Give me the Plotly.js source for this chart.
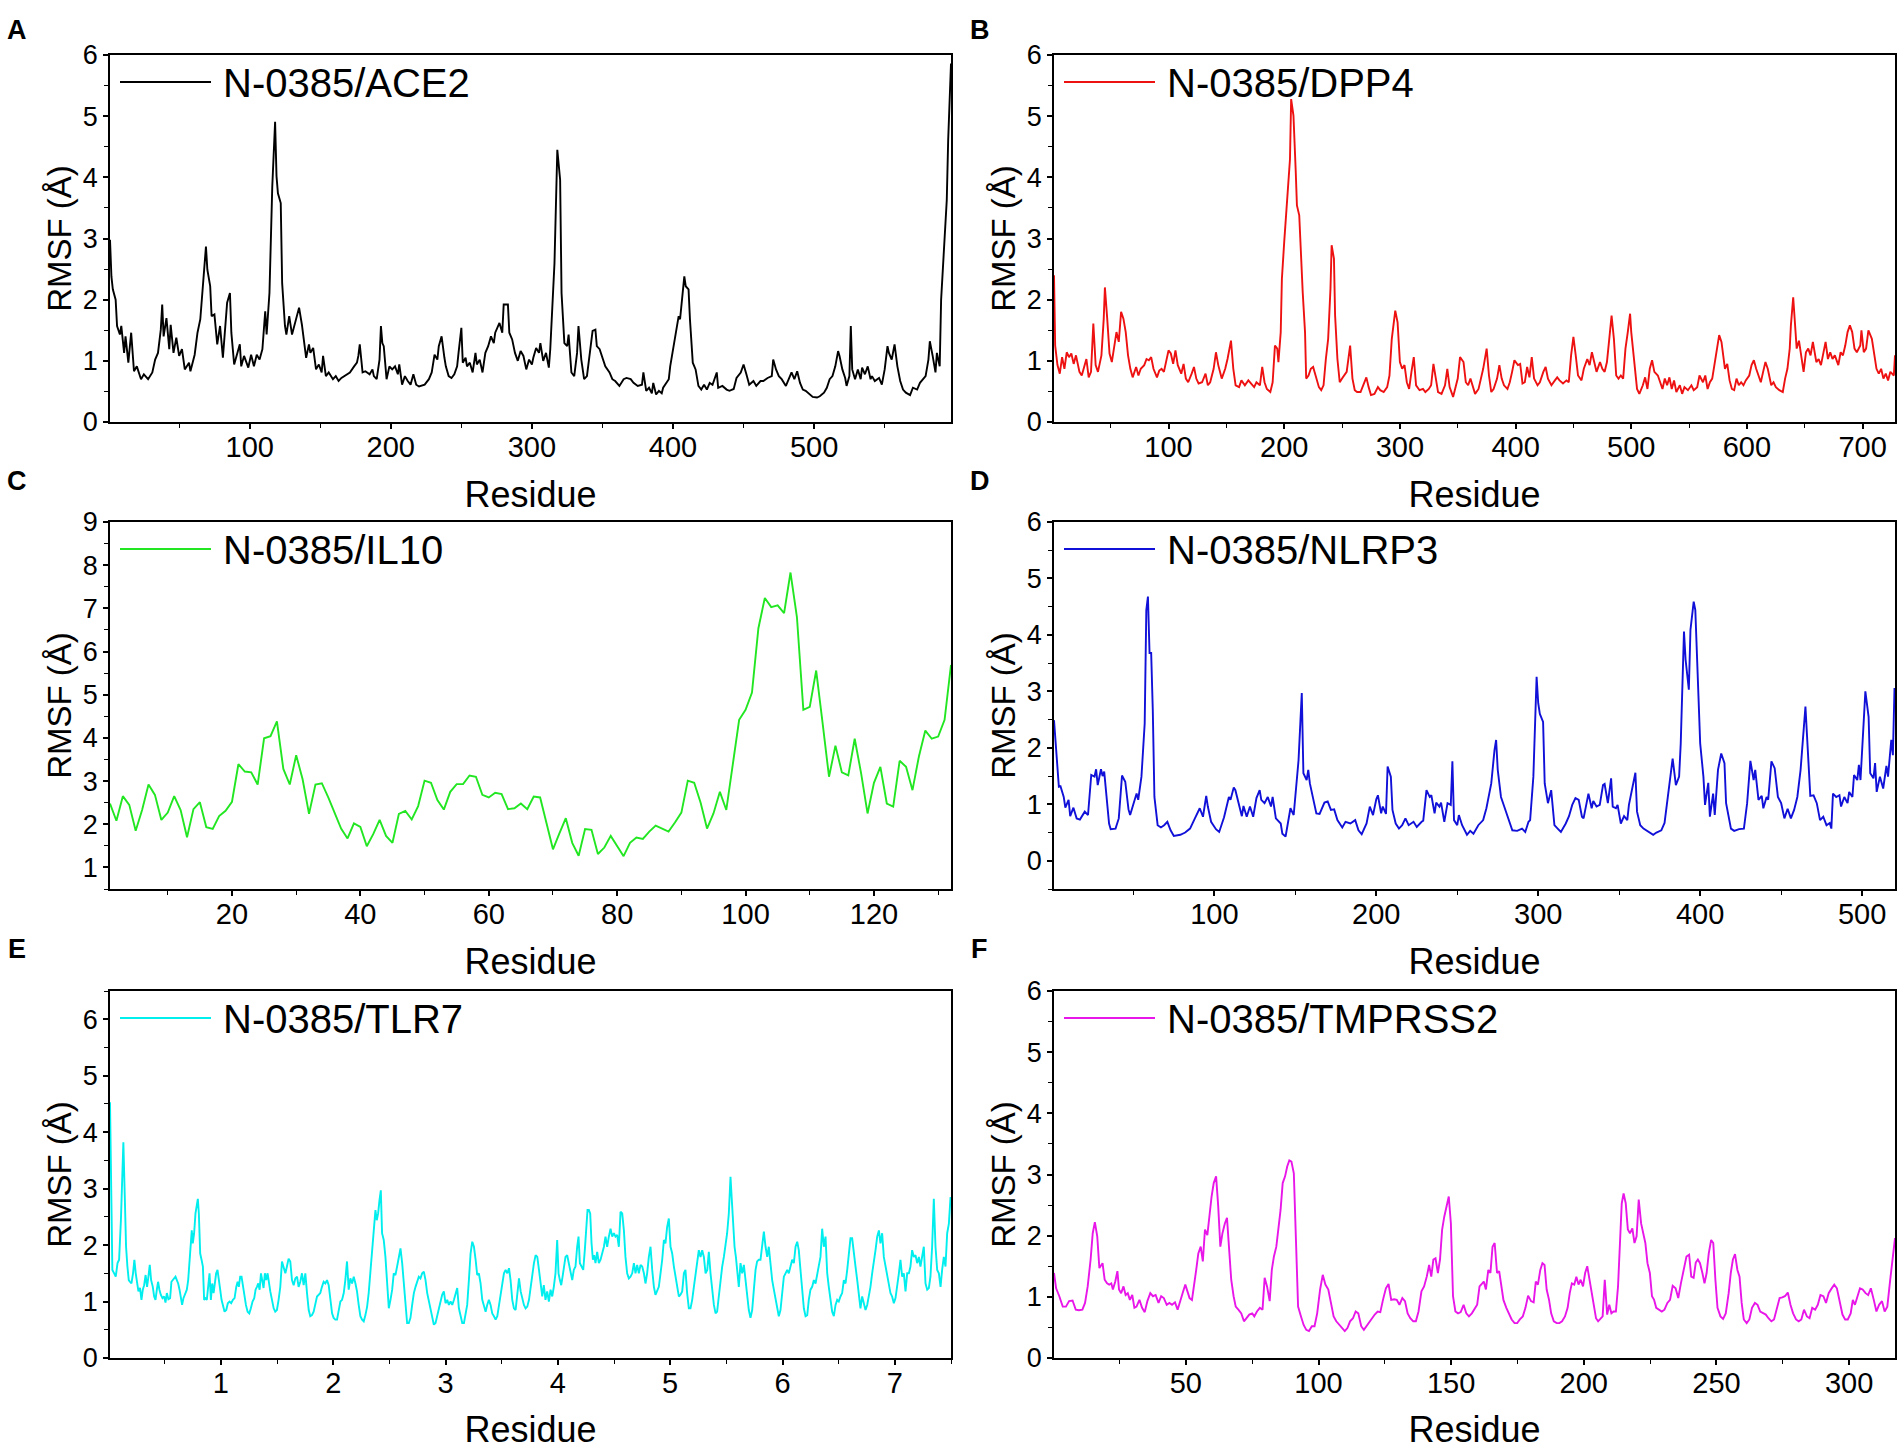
<!DOCTYPE html>
<html>
<head>
<meta charset="utf-8">
<script src="https://cdn.plot.ly/plotly-3.0.1.min.js"></script>
<style>html,body{margin:0;padding:0;background:#fff;}#chart{width:1904px;height:1450px;}</style>
</head>
<body>
<div id="chart"></div>
<script>
// ---------- Data ----------
// Panel A: N-0385/ACE2
const aceRes = [1,2,3,5,6,8,9,11,12,14,
16,18,20,23,25,28,31,33,35,37,
38,39,41,43,44,46,48,50,52,54,
57,58,61,63,65,67,69,70,72,73,
75,77,79,81,83,84,86,87,89,91,
93,94,96,99,101,103,105,107,109,111,
112,114,116,118,119,120,122,123,125,126,
128,130,132,133,135,137,139,140,142,143,
145,147,149,151,152,154,156,159,161,163,
165,168,171,174,176,177,178,180,182,185,
187,188,190,192,193,194,195,197,199,201,
203,205,206,208,210,212,214,216,218,220,
222,224,227,229,231,233,234,236,238,239,
241,243,245,247,248,250,251,253,254,256,
258,260,261,263,265,267,269,271,273,274,
277,279,280,283,284,286,288,290,292,294,
296,298,300,301,303,305,306,308,310,312,
313,316,318,320,321,323,325,326,328,330,
332,333,335,337,339,341,343,345,346,348,
350,352,355,357,359,362,365,367,370,372,
375,378,379,381,383,385,386,388,390,392,
393,395,397,398,400,402,404,405,407,408,
409,411,412,414,416,418,420,422,424,426,
428,431,432,435,438,440,443,445,448,450,
452,454,457,459,462,464,467,470,471,473,
475,477,480,482,484,486,488,490,492,494,
497,499,502,504,507,509,511,513,515,517,
518,520,522,523,525,526,527,529,531,533,
534,536,538,540,541,543,546,548,550,552,
553,555,557,559,561,563,565,568,570,573,
575,577,579,581,582,584,586,587,589,590,
592,594,595,597];
const aceRmsf = [2.98,2.38,2.17,2.0,1.57,1.43,1.57,1.13,1.40,0.97,
1.46,0.83,0.91,0.70,0.78,0.70,0.81,1.02,1.13,1.51,
1.92,1.40,1.70,1.19,1.59,1.13,1.38,1.08,1.19,0.86,
0.97,0.83,1.10,1.46,1.68,2.27,2.87,2.49,2.22,1.73,
1.76,1.27,1.57,1.05,1.73,1.95,2.11,1.46,0.94,1.13,
1.27,0.91,1.08,0.89,1.10,0.91,1.10,1.02,1.19,1.81,
1.43,2.11,3.85,4.91,4.02,3.74,3.58,2.27,1.57,1.43,
1.73,1.43,1.62,1.68,1.87,1.59,1.24,1.05,1.27,1.13,
1.21,0.86,0.94,0.81,1.08,0.75,0.81,0.70,0.75,0.67,
0.72,0.76,0.81,0.91,0.97,1.08,1.27,0.81,0.83,0.78,
0.86,0.75,0.70,1.02,1.57,1.29,1.24,0.70,0.91,0.86,
0.91,0.78,0.94,0.61,0.75,0.67,0.61,0.78,0.61,0.58,
0.59,0.61,0.70,0.81,1.10,1.02,1.24,1.40,1.05,0.91,
0.75,0.72,0.78,0.91,1.13,1.54,0.97,1.05,0.91,0.97,
0.81,1.13,0.94,1.02,0.81,1.13,1.24,1.40,1.29,1.46,
1.62,1.46,1.92,1.92,1.46,1.35,1.13,1.00,1.16,1.08,
0.86,1.02,0.94,1.05,1.21,1.13,1.29,1.00,1.13,0.89,
1.19,2.60,4.45,3.96,2.11,1.29,1.24,1.43,0.81,0.75,
1.13,1.57,1.02,0.70,0.75,1.13,1.49,1.51,1.24,1.19,
1.05,0.91,0.81,0.70,0.67,0.59,0.70,0.72,0.70,0.64,
0.59,0.61,0.81,0.51,0.56,0.47,0.64,0.45,0.51,0.47,
0.56,0.64,0.70,0.91,1.19,1.51,1.73,1.68,2.11,2.38,
2.22,2.17,1.68,0.97,0.86,0.59,0.53,0.61,0.53,0.64,
0.61,0.81,0.56,0.59,0.53,0.51,0.54,0.72,0.81,0.94,
0.78,0.61,0.67,0.59,0.67,0.67,0.72,0.75,1.02,0.86,
0.75,0.70,0.59,0.70,0.81,0.70,0.83,0.64,0.53,0.51,
0.45,0.41,0.40,0.42,0.48,0.56,0.70,0.75,0.91,1.16,
1.08,0.86,0.72,0.59,0.75,1.57,0.86,0.70,0.86,0.70,
0.89,0.78,0.91,0.70,0.75,0.67,0.72,0.61,0.86,1.24,
1.13,1.02,1.27,0.91,0.67,0.53,0.48,0.44,0.56,0.53,
0.64,0.70,0.75,1.02,1.32,1.08,0.81,1.13,0.91,2.00,
2.76,3.63,4.61,5.86];

// Panel B: N-0385/DPP4
const dppRes = [1,2,4,6,8,10,12,14,16,18,
20,23,25,27,29,31,33,35,37,39,
42,44,45,47,49,51,53,55,57,59,
61,63,65,67,69,72,74,76,79,81,
83,85,87,90,92,94,96,98,100,102,
104,106,108,111,113,115,117,120,122,124,
126,129,132,134,136,139,141,143,146,149,
151,154,156,158,161,163,166,169,171,174,
176,179,181,183,185,188,190,192,194,195,
197,198,200,202,203,205,206,208,210,211,
213,214,216,218,219,221,223,225,228,230,
232,234,236,238,240,241,243,244,246,248,
250,252,254,257,259,261,263,266,269,271,
273,275,278,281,283,286,289,291,293,296,
298,300,302,304,306,308,310,312,314,317,
320,322,325,327,329,331,333,336,339,341,
343,346,348,350,352,355,357,359,361,363,
365,368,370,372,375,377,379,381,384,386,
388,390,393,395,397,399,402,404,406,408,
410,412,414,416,419,421,424,426,428,431,
434,436,438,441,444,446,448,450,452,454,
457,459,462,464,466,468,470,473,475,477,
479,481,483,485,487,489,491,493,495,497,
499,500,503,505,507,510,512,514,516,518,
520,523,525,527,529,531,533,535,537,539,
542,544,546,549,552,554,557,559,562,564,
566,568,570,572,574,576,578,581,583,585,
587,589,591,593,595,597,599,602,604,606,
608,610,612,614,616,618,621,623,625,628,
631,633,635,637,638,640,642,643,645,647,
649,651,653,655,657,660,662,664,666,668,
670,672,674,676,679,681,683,685,687,689,
691,693,695,698,699,701,703,705,708,710,
712,714,716,718,720,722,724,727,728];
const dppRmsf = [2.40,1.25,0.93,0.79,1.06,0.87,1.14,1.06,1.12,0.95,
1.09,0.82,0.76,0.90,1.03,0.73,0.82,1.61,0.93,0.82,
1.09,1.69,2.20,1.69,1.12,0.98,1.20,1.47,1.31,1.80,
1.69,1.47,1.09,0.87,0.73,0.90,0.76,0.87,0.93,1.03,
1.01,1.06,0.87,0.73,0.84,0.87,0.82,0.98,1.17,1.12,
0.95,1.17,0.93,0.79,0.95,0.71,0.65,0.79,0.90,0.71,
0.63,0.65,0.79,0.60,0.65,0.87,1.14,0.93,0.71,0.87,
1.03,1.33,0.87,0.60,0.57,0.68,0.60,0.68,0.63,0.57,
0.65,0.60,0.90,0.65,0.54,0.49,0.65,1.25,1.20,0.98,
1.47,2.34,2.94,3.48,3.65,4.30,5.28,5.01,4.08,3.54,
3.38,2.89,2.12,1.47,0.71,0.76,0.87,0.90,0.71,0.57,
0.52,0.60,1.03,1.36,2.18,2.89,2.67,1.74,1.03,0.65,
0.71,0.76,0.82,1.25,0.71,0.52,0.49,0.49,0.63,0.73,
0.57,0.44,0.46,0.57,0.52,0.49,0.57,0.76,1.36,1.82,
1.63,0.98,0.87,0.93,0.65,0.54,0.82,1.06,0.60,0.52,
0.54,0.49,0.54,0.60,0.95,0.73,0.49,0.46,0.60,0.87,
0.57,0.41,0.54,0.71,1.06,0.98,0.65,0.60,0.71,0.60,
0.46,0.54,0.71,0.87,1.20,0.76,0.49,0.54,0.71,0.93,
0.71,0.60,0.54,0.65,0.82,1.01,0.93,0.95,0.63,0.65,
0.90,0.73,1.06,0.71,0.60,0.65,0.82,0.90,0.71,0.60,
0.68,0.73,0.68,0.63,0.68,0.65,1.09,1.39,1.09,0.76,
0.68,0.87,1.03,0.93,1.14,0.95,0.82,0.98,0.87,0.82,
0.98,1.36,1.74,1.36,0.76,0.71,0.76,0.71,1.20,1.47,
1.77,1.47,0.93,0.54,0.46,0.60,0.73,0.54,0.87,1.01,
0.82,0.76,0.65,0.54,0.71,0.60,0.73,0.54,0.68,0.49,
0.60,0.46,0.57,0.52,0.60,0.52,0.57,0.76,0.65,0.76,
0.54,0.65,0.71,0.93,1.14,1.42,1.31,0.87,0.95,0.68,
0.54,0.52,0.71,0.60,0.65,0.60,0.68,0.76,0.93,1.01,
0.87,0.76,0.65,0.82,0.98,0.87,0.60,0.65,0.57,0.52,
0.49,0.71,0.87,1.20,1.58,2.04,1.52,1.20,1.33,1.03,
0.82,1.14,1.20,1.09,1.31,0.98,1.03,0.93,1.14,1.31,
1.03,1.14,1.03,1.09,0.93,1.14,1.09,1.25,1.47,1.58,
1.47,1.20,1.14,1.25,1.50,1.14,1.20,1.50,1.36,1.09,
0.87,0.79,0.87,0.71,0.79,0.68,0.82,0.76,1.09];

// Panel C: N-0385/IL10
const il10Res = [1,2,3,4,5,6,7,8,9,10,
11,12,13,14,15,16,17,18,19,20,
21,22,23,24,25,26,27,28,29,30,
31,32,33,34,35,36,37,38,39,40,
41,42,43,44,45,46,47,48,49,50,
51,52,53,54,55,56,57,58,59,60,
61,62,63,64,65,66,67,68,69,70,
71,72,73,74,75,76,77,78,79,80,
81,82,83,84,85,86,87,88,89,90,
91,92,93,94,95,96,97,98,99,100,
101,102,103,104,105,106,107,108,109,110,
111,112,113,114,115,116,117,118,119,120,
121,122,123,124,125,126,127,128,129,130,
131,132];
const il10Rmsf = [2.48,2.08,2.65,2.45,1.85,2.33,2.92,2.68,2.10,2.27,
2.65,2.33,1.70,2.35,2.51,1.93,1.89,2.19,2.31,2.52,
3.39,3.22,3.20,2.92,3.99,4.04,4.38,3.28,2.92,3.60,
3.04,2.24,2.92,2.95,2.62,2.25,1.90,1.67,2.02,1.94,
1.49,1.77,2.10,1.73,1.57,2.24,2.31,2.11,2.42,3.01,
2.96,2.56,2.34,2.75,2.93,2.93,3.13,3.10,2.68,2.62,
2.73,2.70,2.35,2.37,2.48,2.35,2.64,2.62,2.02,1.42,
1.79,2.14,1.57,1.27,1.89,1.87,1.31,1.46,1.73,1.49,
1.26,1.57,1.69,1.66,1.83,1.97,1.90,1.83,2.04,2.27,
3.01,2.96,2.50,1.90,2.25,2.75,2.33,3.36,4.42,4.65,
5.05,6.54,7.24,7.03,7.07,6.89,7.83,6.80,4.65,4.72,
5.56,4.34,3.10,3.82,3.20,3.13,3.98,3.18,2.25,2.96,
3.33,2.48,2.41,3.47,3.33,2.79,3.57,4.17,3.98,4.03,
4.42,5.69];

// Panel D: N-0385/NLRP3
const nlrpRes = [1,2,4,5,7,8,10,11,13,15,
17,20,22,24,26,27,28,30,31,32,
33,35,36,39,41,43,45,47,48,50,
52,53,55,57,58,59,60,61,62,63,
65,67,69,71,73,75,79,82,85,88,
91,93,95,96,98,101,103,106,109,110,
112,113,115,117,118,120,122,124,126,128,
129,131,133,135,136,138,141,142,144,146,
147,149,151,152,154,155,157,158,159,161,
163,165,168,170,172,174,176,179,181,184,
187,189,191,194,196,198,200,201,203,204,
206,207,209,210,212,214,216,218,220,223,
225,228,229,231,233,234,236,237,239,240,
242,244,246,247,248,250,251,253,256,258,
260,263,266,268,271,273,274,275,277,279,
282,284,287,290,292,294,295,297,299,300,
301,303,304,306,308,310,312,314,317,319,
321,323,325,327,328,331,333,334,336,338,
340,341,343,345,346,348,349,351,353,355,
356,358,360,361,363,365,368,371,373,376,
378,380,382,383,385,387,388,390,391,393,
394,396,397,398,400,402,403,405,406,408,
409,411,413,415,416,419,421,424,427,429,
431,433,434,436,438,439,441,442,444,446,
448,450,452,454,456,458,460,462,464,465,
466,468,470,472,474,476,478,480,481,482,
484,486,487,489,491,492,494,495,497,498,
499,501,502,504,505,507,508,509,511,513,
515,516,518,519,520];
const nlrpRmsf = [2.49,2.08,1.31,1.32,1.13,0.94,1.08,0.79,0.94,0.75,
0.73,0.87,0.81,1.52,1.49,1.62,1.34,1.62,1.50,1.58,
1.31,0.66,0.56,0.57,0.75,1.51,1.40,0.91,0.81,1.02,
1.19,1.08,1.49,2.43,4.44,4.68,3.68,3.68,2.67,1.13,
0.63,0.59,0.63,0.69,0.54,0.44,0.46,0.50,0.57,0.75,
0.93,0.78,1.15,0.96,0.69,0.56,0.51,0.77,1.13,1.08,
1.30,1.25,1.02,0.79,0.97,0.78,0.96,0.78,1.11,1.25,
1.08,1.02,1.13,0.96,1.13,0.75,0.66,0.48,0.43,0.72,
0.93,0.81,1.37,1.78,2.97,1.55,1.43,1.61,1.37,1.13,
0.84,0.83,1.03,1.05,0.90,0.91,0.72,0.59,0.69,0.66,
0.72,0.54,0.47,0.66,0.96,0.81,1.09,1.16,0.84,0.96,
0.83,1.67,1.49,0.90,0.66,0.57,0.63,0.75,0.63,0.69,
0.60,0.69,0.71,1.25,1.13,1.16,0.84,1.03,0.96,1.03,
0.69,1.02,0.99,1.76,0.72,0.63,0.81,0.63,0.46,0.53,
0.48,0.63,0.72,0.93,1.37,1.96,2.14,1.61,1.13,0.96,
0.72,0.54,0.53,0.57,0.51,0.69,0.72,1.49,3.26,2.79,
2.60,2.46,1.37,1.02,1.25,0.63,0.57,0.51,0.66,0.79,
0.99,1.11,1.08,0.78,0.75,1.19,0.93,1.06,0.96,0.99,
1.34,1.36,1.02,1.46,0.96,0.93,0.99,0.66,0.79,0.72,
0.99,1.25,1.56,0.87,0.63,0.57,0.51,0.46,0.50,0.54,
0.67,1.13,1.67,1.81,1.34,1.49,2.08,4.06,3.56,3.03,
4.09,4.59,4.44,3.56,2.08,1.49,0.99,1.38,0.78,1.19,
0.81,1.61,1.90,1.73,1.02,0.57,0.53,0.56,0.57,1.02,
1.77,1.43,1.61,1.08,1.15,0.93,1.13,1.08,1.76,1.64,
1.13,1.02,0.75,0.92,0.75,0.90,1.13,1.61,2.43,2.73,
2.20,1.15,1.16,1.02,0.72,0.78,0.63,0.67,0.57,1.19,
1.13,1.16,0.96,1.13,1.02,1.22,1.13,1.52,1.43,1.70,
1.43,2.55,3.00,2.55,1.55,1.46,1.73,1.22,1.49,1.28,
1.68,1.49,2.14,1.87,3.06];

// Panel E: N-0385/TLR7
const tlrRes = [0.013,0.02,0.034,0.05,0.064,0.08,0.094,0.11,0.12,0.132,
0.144,0.156,0.168,0.18,0.19,0.204,0.218,0.23,0.242,0.254,
0.266,0.28,0.293,0.305,0.317,0.33,0.343,0.355,0.367,0.379,
0.394,0.406,0.418,0.43,0.441,0.453,0.465,0.48,0.495,0.507,
0.519,0.533,0.548,0.56,0.572,0.584,0.596,0.608,0.62,0.632,
0.643,0.655,0.667,0.682,0.697,0.709,0.721,0.733,0.741,0.75,
0.762,0.774,0.786,0.795,0.804,0.816,0.828,0.84,0.851,0.863,
0.875,0.887,0.899,0.911,0.923,0.935,0.947,0.958,0.97,0.982,
0.994,1.006,1.018,1.033,1.048,1.062,1.077,1.092,1.107,1.122,
1.137,1.149,1.16,1.172,1.184,1.196,1.208,1.223,1.238,1.253,
1.267,1.282,1.297,1.309,1.321,1.333,1.345,1.357,1.368,1.38,
1.392,1.404,1.416,1.428,1.44,1.455,1.47,1.484,1.499,1.514,
1.529,1.544,1.559,1.574,1.588,1.603,1.618,1.633,1.648,1.663,
1.678,1.692,1.707,1.722,1.737,1.752,1.767,1.782,1.796,1.811,
1.826,1.841,1.856,1.871,1.885,1.9,1.915,1.93,1.945,1.96,
1.975,1.99,2.004,2.019,2.034,2.049,2.064,2.079,2.094,2.108,
2.123,2.138,2.153,2.168,2.183,2.198,2.212,2.227,2.242,2.257,
2.272,2.287,2.302,2.316,2.331,2.346,2.361,2.376,2.388,2.4,
2.412,2.424,2.435,2.45,2.465,2.48,2.495,2.51,2.525,2.539,
2.554,2.569,2.584,2.599,2.614,2.629,2.644,2.658,2.673,2.688,
2.703,2.718,2.733,2.748,2.762,2.777,2.792,2.807,2.822,2.837,
2.852,2.866,2.881,2.896,2.911,2.926,2.941,2.956,2.97,2.985,
3.0,3.015,3.03,3.045,3.06,3.075,3.089,3.104,3.119,3.134,
3.149,3.164,3.178,3.193,3.208,3.223,3.238,3.253,3.268,3.282,
3.297,3.312,3.327,3.342,3.357,3.371,3.386,3.401,3.416,3.431,
3.446,3.461,3.475,3.49,3.505,3.52,3.535,3.55,3.565,3.579,
3.594,3.609,3.624,3.639,3.654,3.669,3.683,3.698,3.713,3.728,
3.743,3.758,3.773,3.787,3.802,3.817,3.832,
3.846,3.861,3.875,3.89,3.905,3.92,3.935,3.95,3.964,3.979,
3.994,4.006,4.018,4.03,4.042,4.053,4.068,4.083,4.098,4.113,
4.128,4.142,4.157,4.172,4.184,4.196,4.211,4.226,4.24,4.252,
4.264,4.276,4.288,4.3,4.312,4.323,4.335,4.35,4.365,4.38,
4.395,4.41,4.424,4.439,4.454,4.469,4.484,4.499,4.513,4.528,
4.543,4.558,4.573,4.588,4.602,4.617,4.632,4.647,4.662,4.677,
4.691,4.706,4.721,4.736,4.751,4.766,4.78,4.795,4.81,4.825,
4.84,4.855,4.869,4.884,4.899,4.914,4.929,4.944,4.958,4.973,
4.988,5.003,5.018,5.033,5.047,5.062,5.077,5.092,5.107,5.122,
5.136,5.151,5.166,5.181,5.196,5.211,5.226,5.24,5.255,5.27,
5.285,5.3,5.315,5.33,5.344,5.359,5.374,5.389,5.404,5.418,
5.433,5.448,5.463,5.478,5.493,5.507,5.522,5.537,5.549,5.561,
5.573,5.585,5.596,5.611,5.626,5.641,5.656,5.671,5.685,5.7,
5.715,5.73,5.745,5.76,5.774,5.789,5.804,5.819,5.834,5.849,
5.864,5.878,5.893,5.908,5.923,5.938,5.953,5.967,5.982,5.997,
6.012,6.027,6.042,6.056,6.071,6.086,6.101,6.116,6.131,6.145,
6.16,6.175,6.19,6.205,6.22,6.234,6.249,6.264,6.279,6.294,
6.309,6.323,6.338,6.353,6.368,6.383,6.398,6.412,6.427,6.442,
6.457,6.472,6.487,6.501,6.516,6.531,6.546,6.561,6.576,6.59,
6.605,6.62,6.635,6.65,6.665,6.68,6.694,6.709,6.724,6.739,
6.754,6.769,6.783,6.798,6.813,6.828,6.843,6.858,6.872,6.887,
6.902,6.917,6.932,6.947,6.961,6.976,6.991,7.006,7.021,7.036,
7.05,7.065,7.08,7.095,7.11,7.125,7.139,7.154,7.169,7.184,
7.199,7.214,7.228,7.243,7.258,7.273,7.288,7.303,7.317,7.332,
7.347,7.362,7.377,7.392,7.407,7.421,7.436,7.451,7.466,7.481,
7.496];
const tlrRmsf = [4.53,3.32,1.56,1.50,1.44,1.68,1.74,2.44,3.26,3.82,
2.91,1.97,1.62,1.38,1.35,1.32,1.50,1.74,1.50,1.35,
1.18,1.24,1.03,1.21,1.29,1.47,1.26,1.44,1.65,1.38,
1.26,1.09,1.03,1.21,1.35,1.21,1.12,1.06,1.09,0.98,
1.15,1.04,1.06,1.35,1.38,1.41,1.44,1.38,1.32,1.21,
1.09,0.94,1.06,1.15,1.21,1.38,1.74,2.15,2.26,2.03,
2.21,2.56,2.76,2.82,2.56,1.85,1.74,1.62,1.03,1.06,
1.03,1.26,1.50,1.03,1.32,1.15,1.38,1.50,1.56,1.32,
1.21,1.03,0.91,0.82,0.85,0.97,1.00,0.97,1.03,1.06,
1.26,1.35,1.26,1.44,1.44,1.26,1.09,0.94,0.82,0.79,
0.88,1.00,1.06,1.21,1.26,1.32,1.21,1.50,1.38,1.24,
1.50,1.38,1.50,1.32,1.18,1.03,0.88,0.82,0.85,1.03,
1.26,1.71,1.62,1.50,1.62,1.76,1.71,1.38,1.29,1.41,
1.44,1.26,1.35,1.50,1.29,1.50,1.15,0.85,0.74,0.76,
0.82,0.97,1.09,1.12,1.15,1.26,1.35,1.32,1.38,1.29,
1.03,0.79,0.71,0.68,0.68,0.82,1.00,1.03,1.15,1.38,
1.71,1.21,1.41,1.32,1.44,1.32,1.18,0.94,0.74,0.68,
0.65,0.76,0.91,1.15,1.50,1.97,2.32,2.62,2.44,2.56,
2.79,2.97,2.21,2.09,1.79,1.26,0.88,1.03,1.21,1.50,
1.47,1.62,1.79,1.94,1.68,1.32,0.91,0.62,0.62,0.71,
0.94,1.15,1.26,1.38,1.44,1.41,1.50,1.53,1.38,1.15,
1.00,0.85,0.74,0.59,0.62,0.74,0.85,0.97,1.12,1.18,
0.97,1.03,0.94,1.00,0.94,1.03,1.12,1.24,0.88,0.74,
0.62,0.62,0.76,0.94,1.38,1.85,2.06,1.97,1.74,1.47,
1.50,1.32,1.03,0.91,0.82,0.94,1.03,0.94,0.79,0.74,
0.68,0.74,0.91,1.09,1.26,1.50,1.56,1.50,1.59,1.38,
1.03,0.88,0.85,1.15,1.41,1.18,1.06,0.94,0.88,0.91,
1.03,1.26,1.50,1.68,1.82,1.79,1.56,
1.32,1.09,1.29,1.03,1.18,1.00,1.21,1.09,1.26,1.50,
2.09,1.50,1.38,1.29,1.44,1.62,1.79,1.82,1.68,1.50,
1.38,1.56,1.62,1.97,2.15,1.68,1.62,1.56,1.91,2.38,
2.62,2.62,2.56,2.03,1.74,1.82,1.68,1.88,1.68,1.74,
1.85,1.97,2.15,1.97,2.15,2.29,2.15,2.21,2.15,2.18,
1.97,2.59,2.56,2.26,1.79,1.50,1.41,1.44,1.50,1.68,
1.50,1.65,1.50,1.65,1.62,1.50,1.32,1.50,1.79,1.97,
1.56,1.26,1.12,1.18,1.26,1.50,1.74,2.09,2.03,2.32,
2.47,1.97,1.85,1.62,1.44,1.26,1.09,1.12,1.18,1.50,
1.56,1.15,0.88,0.88,1.03,1.26,1.50,1.68,1.91,1.79,
1.91,1.79,1.50,1.56,1.88,1.50,1.15,0.94,0.79,0.82,
1.09,1.38,1.62,1.79,1.97,2.21,2.56,3.21,2.79,2.32,
1.97,1.79,1.50,1.26,1.68,1.50,1.65,1.38,1.09,0.85,
0.71,0.85,1.21,1.56,1.71,1.74,1.74,2.03,2.24,1.97,
1.79,1.97,1.62,1.38,1.21,1.06,0.85,0.74,0.85,1.15,
1.44,1.50,1.56,1.50,1.62,1.74,1.68,1.97,2.06,1.91,
1.56,1.15,0.88,0.74,0.76,1.03,1.21,1.26,1.38,1.32,
1.50,1.62,1.79,2.29,1.97,2.15,1.50,1.26,1.03,0.82,
0.74,0.94,1.03,1.00,1.09,1.15,1.38,1.32,1.56,1.79,
2.12,2.12,1.91,1.62,1.38,1.15,0.88,1.09,0.94,0.85,
0.94,1.09,1.26,1.50,1.68,1.91,2.15,2.26,2.03,2.21,
1.79,1.62,1.44,1.26,1.15,1.09,0.97,1.06,1.26,1.50,
1.74,1.44,1.50,1.18,1.50,1.50,1.62,1.91,1.79,1.82,
1.68,1.79,1.62,1.79,1.97,1.32,1.21,1.24,1.44,1.97,
2.82,1.97,1.56,1.50,1.26,1.56,1.79,1.62,2.21,2.38,
2.85];

// Panel F: N-0385/TMPRSS2
const tmpRes = [0.3,1.1,2.3,3.6,4.8,6,7.3,8.5,9.7,11,
12,13,14.1,14.9,15.7,16.6,17.4,18,18.6,19.4,
20.3,21.1,21.9,22.5,23.4,24.2,24.8,25.6,26.5,27.3,
28.1,28.9,29.8,30.6,31.4,32.5,33.5,34.5,35.5,36.6,
37.6,38.6,39.7,40.7,41.7,42.8,43.8,44.8,45.9,46.9,
47.9,49,49.8,50.6,51.4,52.3,53.1,53.9,54.7,55.6,
56.4,57.2,58.1,58.9,59.7,60.5,61.4,62.2,63,63.8,
64.7,65.5,66.3,67.1,68,68.8,69.8,70.9,71.9,72.9,
73.9,75,75.8,76.8,77.9,78.9,79.7,80.6,81.6,82.4,
83.2,84.1,84.9,85.7,86.5,87.4,88.2,89,89.8,90.7,
91.5,92.3,93.4,94.4,95.4,96.4,97.5,98.5,99.5,100.6,
101.6,102.6,103.7,104.7,105.7,106.7,107.8,108.8,109.9,110.9,
111.9,113,114,115,116.1,117.1,118.1,119.2,120.2,121.2,
122.3,123.3,124.3,125.4,126.4,127.4,128.5,129.5,130.5,131.6,
132.6,133.6,134.6,135.7,136.7,137.7,138.8,139.8,140.8,141.7,
142.5,143.3,144.1,145,145.8,146.6,147.4,148.3,149.1,149.9,
150.7,151.6,152.6,153.6,154.7,155.7,156.7,157.8,158.8,159.8,
160.7,161.5,162.3,163.1,164,164.8,165.6,166.4,167.3,168.1,
168.9,169.7,170.8,171.8,172.8,173.9,174.9,175.9,177,178,
179,180.1,181.1,181.9,182.7,183.6,184.4,185.2,186,186.9,
187.7,188.7,189.8,190.8,191.8,192.9,193.9,194.7,195.5,196.4,
197.2,198,198.8,199.7,200.5,201.3,202.1,203,203.8,204.6,
205.4,206.3,207.1,207.9,208.8,209.6,210.4,211.2,212.1,212.9,
213.7,214.3,215,215.8,216.6,217.4,218.3,219.1,219.9,220.7,
221.6,222.4,223.2,224,224.9,225.7,226.5,227.3,228.4,229.4,
230.4,231.5,232.5,233.5,234.6,235.6,236.6,237.7,238.7,239.7,
240.5,241.4,242.2,243,243.8,244.7,245.5,246.3,247.1,248,
248.8,249.6,250.4,251.5,252.5,253.5,254.6,255.4,256.2,257,
257.9,258.7,259.5,260.3,261.4,262.4,263.4,264.5,265.5,266.5,
267.6,268.6,269.6,270.7,271.7,272.7,273.8,274.8,275.8,276.9,
277.9,278.9,280,281,282,283,284.1,285.1,286.1,287.2,
288.2,289.2,290.3,291.3,292.3,293.3,294.4,295.4,296.4,297.5,
298.5,299.5,300.6,301.4,302.2,303.1,304.1,305.1,306.2,307.2,
308.2,309.3,310.3,311.3,312.4,313.4,314.4,315.5,316.3,317.3];
const tmpRmsf = [1.39,1.14,1.01,0.84,0.84,0.93,0.94,0.79,0.78,0.79,
0.90,1.17,1.61,2.04,2.22,1.99,1.47,1.52,1.55,1.28,
1.22,1.20,1.22,1.12,1.25,1.42,1.12,1.06,1.17,1.03,
1.06,0.95,1.03,0.82,0.84,0.95,0.82,0.75,0.93,1.06,
1.01,1.03,0.90,1.01,0.98,0.87,0.90,0.87,0.91,0.79,
0.95,1.09,1.20,1.09,0.98,0.95,1.17,1.44,1.71,1.82,
1.58,2.10,2.01,2.37,2.64,2.86,2.97,2.48,1.82,2.04,
2.20,2.29,1.71,1.28,1.01,0.84,0.79,0.73,0.60,0.65,
0.71,0.73,0.68,0.76,0.82,0.79,1.31,1.17,0.93,1.44,
1.66,1.82,2.10,2.42,2.86,2.97,3.13,3.23,3.21,3.02,
1.93,0.84,0.68,0.54,0.46,0.44,0.52,0.52,0.73,1.12,
1.36,1.20,1.12,0.87,0.68,0.60,0.54,0.49,0.44,0.49,
0.60,0.65,0.76,0.73,0.52,0.46,0.52,0.60,0.65,0.71,
0.76,0.75,0.95,1.14,1.21,0.95,0.96,0.95,0.87,0.98,
0.93,0.73,0.65,0.60,0.60,0.76,1.09,1.17,1.33,1.52,
1.33,1.61,1.63,1.39,1.61,2.10,2.31,2.48,2.64,2.20,
1.01,0.76,0.73,0.75,0.87,0.73,0.68,0.73,0.79,0.87,
1.17,1.22,1.25,1.12,1.44,1.39,1.82,1.88,1.39,1.42,
1.17,0.95,0.82,0.73,0.63,0.57,0.57,0.63,0.68,0.82,
1.02,0.93,0.91,1.25,1.20,1.44,1.55,1.52,1.12,0.95,
0.73,0.60,0.57,0.57,0.60,0.68,0.82,1.06,1.22,1.20,
1.33,1.20,1.28,1.17,1.39,1.50,1.31,1.06,0.90,0.65,
0.60,0.65,0.68,1.28,0.71,0.87,0.73,0.76,0.76,1.17,
2.04,2.53,2.69,2.53,2.10,2.04,2.12,1.88,1.99,2.59,
2.20,2.04,1.88,1.55,1.39,1.01,0.95,0.82,0.79,0.76,
0.79,0.90,0.95,1.18,1.14,0.98,1.22,1.47,1.66,1.69,
1.33,1.31,1.56,1.61,1.55,1.39,1.22,1.39,1.71,1.93,
1.88,1.28,0.82,0.68,0.64,0.73,1.06,1.39,1.61,1.70,
1.44,1.33,0.90,0.63,0.57,0.63,0.82,0.90,0.87,0.76,
0.73,0.71,0.65,0.60,0.63,0.79,0.98,0.99,1.01,1.07,
0.87,0.73,0.63,0.60,0.63,0.79,0.68,0.65,0.82,0.79,
0.87,1.03,1.01,0.90,1.06,1.13,1.20,1.14,0.95,0.71,
0.63,0.63,0.73,0.95,0.87,1.01,1.14,1.12,1.06,1.03,
1.14,0.95,0.76,0.87,0.93,0.76,0.84,1.28,1.61,1.96];

const seriesNames = ['N-0385/ACE2','N-0385/DPP4','N-0385/IL10','N-0385/NLRP3','N-0385/TLR7','N-0385/TMPRSS2'];
const panelLetters = ['A','B','C','D','E','F'];
const seriesColors = ['#000000','#ee1111','#22e622','#1010d8','#00eeee','#e816e8'];
const xTitle = 'Residue';
const yTitle = 'RMSF (Å)';

// ---------- Layout helpers (pixel -> paper) ----------
const W = 1904, H = 1450;
const px = v => v / W;
const py = v => 1 - v / H;
const FONT = 'Liberation Sans, Arial, Helvetica, sans-serif';

const colX = [[110, 951], [1054, 1895]];
const rowY = [[55, 422], [522, 889], [991, 1358]];

const xs = [aceRes, dppRes, il10Res, nlrpRes, tlrRes, tmpRes];
const ys = [aceRmsf, dppRmsf, il10Rmsf, nlrpRmsf, tlrRmsf, tmpRmsf];

const xRanges = [[1, 597], [1, 728], [1, 132], [1, 520.3], [0.013, 7.5], [0.3, 317.3]];
const xDticks = [100, 100, 20, 100, 1, 50];
const yRanges = [[0, 6], [0, 6], [0.5, 9], [-0.5, 6], [0, 6.5], [0, 6]];

const traces = [];
const layout = {
  width: W, height: H,
  margin: {l: 0, r: 0, t: 0, b: 0},
  paper_bgcolor: '#ffffff', plot_bgcolor: '#ffffff',
  showlegend: false,
  font: {family: FONT, color: '#000'},
  shapes: [], annotations: []
};

for (let i = 0; i < 6; i++) {
  const col = i % 2, row = Math.floor(i / 2);
  const n = i === 0 ? '' : String(i + 1);
  traces.push({
    x: xs[i], y: ys[i], type: 'scatter', mode: 'lines',
    name: seriesNames[i],
    xaxis: 'x' + n, yaxis: 'y' + n,
    line: {color: seriesColors[i], width: 1.9},
    hoverinfo: 'x+y'
  });
  const axCommon = {
    showline: true, linecolor: '#000', linewidth: 1.6, mirror: true,
    ticks: 'outside', ticklen: 5, tickwidth: 1.5, tickcolor: '#000',
    showgrid: false, zeroline: false
  };
  layout['xaxis' + n] = Object.assign({}, axCommon, {
    domain: [px(colX[col][0]), px(colX[col][1])],
    anchor: 'y' + n,
    range: xRanges[i], tick0: 0, dtick: xDticks[i],
    tickfont: {family: FONT, size: 29, color: '#000'},
    ticklabelstandoff: -7,
    minor: {dtick: xDticks[i] / 2, ticks: 'outside', ticklen: 4, tickwidth: 1.2, tickcolor: '#000', showgrid: false},
    title: {text: xTitle, font: {family: FONT, size: 36, color: '#000'}, standoff: 20},
    automargin: false
  });
  layout['yaxis' + n] = Object.assign({}, axCommon, {
    domain: [py(rowY[row][1]), py(rowY[row][0])],
    anchor: 'x' + n,
    range: yRanges[i], tick0: 0, dtick: 1,
    tickfont: {family: FONT, size: 27, color: '#000'},
    minor: {dtick: 0.5, ticks: 'outside', ticklen: 4, tickwidth: 1.2, tickcolor: '#000', showgrid: false},
    title: {text: yTitle, font: {family: FONT, size: 33, color: '#000'}, standoff: 1},
    automargin: false
  });
  // custom legend (long line sample + label)
  const left = colX[col][0];
  const ly = rowY[row][0] + 27;
  layout.shapes.push({
    type: 'line', xref: 'paper', yref: 'paper',
    x0: px(left + 10), x1: px(left + 101), y0: py(ly), y1: py(ly),
    line: {color: seriesColors[i], width: 2}
  });
  layout.annotations.push({
    xref: 'paper', yref: 'paper', x: px(left + 111), y: py(ly + 1),
    xanchor: 'left', yanchor: 'middle', showarrow: false,
    text: seriesNames[i], font: {family: FONT, size: 40, color: '#000'}
  });
  // panel letters
  layout.annotations.push({
    xref: 'paper', yref: 'paper',
    x: px(col === 0 ? 17 : 980), y: py(row === 0 ? 30 : (row === 1 ? 481 : 949)),
    xanchor: 'center', yanchor: 'middle', showarrow: false,
    text: '<b>' + panelLetters[i] + '</b>', font: {family: FONT, size: 27, color: '#000'}
  });
}

Plotly.newPlot('chart', traces, layout, {displayModeBar: false, responsive: false});
</script>
</body>
</html>
